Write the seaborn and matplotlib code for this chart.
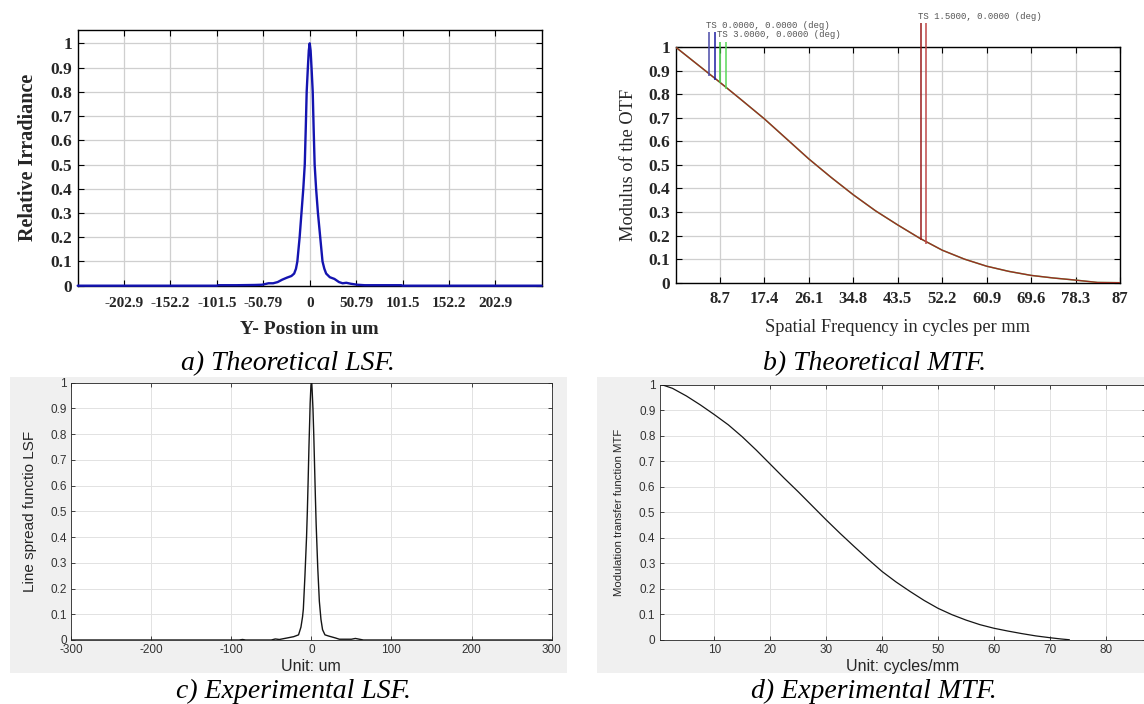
import numpy as np
import pandas as pd
import seaborn as sns
import matplotlib
matplotlib.use("Agg")
import matplotlib.pyplot as plt
from matplotlib.patches import Rectangle

# a) theoretical LSF (um, relative irradiance)
lsf_theo_x = [-253.6, -101.5, -100, -80, -60, -52, -45, -40, -35, -30, -25, -20, -17, -15,
              -13.5, -11, -9, -7, -5.4, -4.3, -3.3, -2, -1, 0, 1, 2, 3.3, 4.3, 5.4, 7, 9,
              11.5, 14, 16, 18, 22, 27, 32, 36, 40, 45, 52, 60, 100, 101.5, 253.6]
lsf_theo_y = [0, 0, 0.002, 0.002, 0.003, 0.004, 0.01, 0.01, 0.015, 0.025, 0.033, 0.04, 0.05, 0.07,
              0.10, 0.20, 0.30, 0.40, 0.50, 0.65, 0.80, 0.90, 0.97, 1.0, 0.97, 0.90, 0.80, 0.65, 0.50, 0.40, 0.30,
              0.20, 0.10, 0.07, 0.05, 0.035, 0.028, 0.015, 0.01, 0.012, 0.008, 0.004, 0.002, 0.002, 0, 0]
lsf_theo_ticks = [-202.9, -152.2, -101.5, -50.79, 0, 50.79, 101.5, 152.2, 202.9]
lsf_theo_ticklabels = ["-202.9", "-152.2", "-101.5", "-50.79", "0", "50.79", "101.5", "152.2", "202.9"]

# b) theoretical MTF (cycles/mm, modulus of OTF)
mtf_theo_x = [0, 4.35, 8.7, 13.05, 17.4, 21.75, 26.1, 30.45, 34.8, 39.15, 43.5, 47.85, 52.2,
              56.55, 60.9, 65.25, 69.6, 73.95, 78.3, 82.6, 87]
mtf_theo_y = [1.0, 0.925, 0.85, 0.773, 0.695, 0.61, 0.525, 0.447, 0.373, 0.305, 0.245, 0.188, 0.138,
              0.100, 0.070, 0.048, 0.031, 0.02, 0.011, 0.001, 0.0]
mtf_theo_ticks = [8.7, 17.4, 26.1, 34.8, 43.5, 52.2, 60.9, 69.6, 78.3, 87]
mtf_theo_ticklabels = ["8.7", "17.4", "26.1", "34.8", "43.5", "52.2", "60.9", "69.6", "78.3", "87"]
field_names = ["TS 0.0000, 0.0000 (deg)", "TS 3.0000, 0.0000 (deg)", "TS 1.5000, 0.0000 (deg)"]
marker_freq = [6.57, 7.65, 8.70, 9.94, 47.96, 49.03]
marker_bottom = [0.877, 0.862, 0.848, 0.82, 0.18, 0.165]
marker_top = [1.065, 1.065, 1.022, 1.022, 1.103, 1.103]
marker_colors = ["#4a4aa8", "#1c1ca0", "#3cc83c", "#5ad85a", "#9a1c1c", "#c04848"]

# c) experimental LSF
lsf_exp_x = [-300, -90, -86, -82, -50, -45, -40, -30, -22, -16, -13, -11, -10, -8, -6, -5, -4, -3,
             -2, -1.5, -0.5, 0, 0.5, 1, 2, 3, 4, 5, 6, 8, 10, 12, 14, 17, 22, 30, 35, 45, 50, 55,
             60, 65, 300]
lsf_exp_y = [0, 0, 0.002, 0, 0, 0.004, 0.002, 0.008, 0.013, 0.02, 0.05, 0.09, 0.12, 0.25, 0.40, 0.50,
             0.62, 0.75, 0.86, 0.92, 0.99, 1.0, 1.0, 0.97, 0.90, 0.80, 0.68, 0.56, 0.45, 0.28, 0.15,
             0.08, 0.04, 0.02, 0.015, 0.008, 0.003, 0.003, 0.003, 0.006, 0.003, 0, 0]

# d) experimental MTF
mtf_exp_x = [0.5, 2.5, 5, 7.5, 10, 12.5, 15, 17.5, 20, 22.5, 25, 27.5, 30, 32.5, 35, 37.5, 40,
             42.5, 45, 47.5, 50, 52.5, 55, 57.5, 60, 62.5, 65, 67.5, 70, 72, 73.5]
mtf_exp_y = [1.0, 0.985, 0.955, 0.92, 0.882, 0.842, 0.795, 0.743, 0.688, 0.633, 0.58, 0.525, 0.47,
             0.417, 0.366, 0.316, 0.268, 0.227, 0.19, 0.155, 0.124, 0.099, 0.078, 0.06, 0.046,
             0.035, 0.025, 0.016, 0.009, 0.004, 0.001]

unit_ticks = [0, 0.1, 0.2, 0.3, 0.4, 0.5, 0.6, 0.7, 0.8, 0.9, 1]
unit_ticklabels = ["0", "0.1", "0.2", "0.3", "0.4", "0.5", "0.6", "0.7", "0.8", "0.9", "1"]

sns.set_theme(style="white")
plt.rcParams["font.family"] = ["Liberation Serif", "DejaVu Sans"]

W, H = 1144, 704
fig = plt.figure(figsize=(11.44, 7.04), dpi=100)
fig.patch.set_facecolor("white")


def box(x0, y0, x1, y1):
    return [x0 / W, 1 - y1 / H, (x1 - x0) / W, (y1 - y0) / H]


# grey MATLAB figure backgrounds (behind the axes)
for x0, x1 in [(9.8, 566.7), (596.7, 1146)]:
    b = box(x0, 376.7, x1, 673)
    fig.patches.append(Rectangle((b[0], b[1]), b[2], b[3], transform=fig.transFigure,
                                 facecolor="#f0f0f0", edgecolor="none", zorder=-5))

serif = "Liberation Serif"
sans = "Liberation Sans"


def zemax_style(ax):
    ax.set_facecolor("white")
    ax.grid(True, color="#cfcfcf", linewidth=0.9)
    ax.set_axisbelow(True)
    for s in ax.spines.values():
        s.set_visible(True)
        s.set_color("black")
        s.set_linewidth(1.0)
    ax.tick_params(direction="in", top=True, right=True, bottom=True, left=True,
                   length=4, width=0.8, color="black")


def matlab_style(ax):
    ax.set_facecolor("white")
    ax.grid(True, color="#e2e2e2", linewidth=0.7)
    ax.set_axisbelow(True)
    for s in ax.spines.values():
        s.set_visible(True)
        s.set_color("#262626")
        s.set_linewidth(0.6)
    ax.tick_params(direction="in", top=True, right=True, bottom=True, left=True,
                   length=3, width=0.6, color="#262626", labelcolor="#333333", pad=3)


# ---- a) Theoretical LSF
ax = fig.add_axes(box(77.7, 30, 541.7, 285.7))
df_a = pd.DataFrame({"pos": lsf_theo_x, "irr": lsf_theo_y})
sns.lineplot(data=df_a, x="pos", y="irr", ax=ax, estimator=None, sort=False,
             color="#1414b0", linewidth=1.7, zorder=3, clip_on=False)
zemax_style(ax)
ax.set_xlim(-253.6, 253.6)
ax.set_ylim(0, 1.055)
ax.set_xticks(lsf_theo_ticks)
ax.set_xticklabels(lsf_theo_ticklabels, fontfamily=serif, fontweight="bold", fontsize=11)
ax.set_yticks(unit_ticks)
ax.set_yticklabels(unit_ticklabels, fontfamily=serif, fontweight="bold", fontsize=12.5)
ax.tick_params(axis="x", pad=8)
ax.tick_params(axis="y", pad=4)
ax.set_xlabel("Y- Postion in um", fontfamily=serif, fontweight="bold", fontsize=14)
ax.set_ylabel("Relative Irradiance", fontfamily=serif, fontweight="bold", fontsize=14.5)
ax.xaxis.set_label_coords(0.5, -0.138)
ax.yaxis.set_label_coords(-0.085, 0.5)

# ---- b) Theoretical MTF
ax = fig.add_axes(box(675.5, 47, 1120, 282.7))
df_b = pd.DataFrame({"freq": mtf_theo_x, "mtf": mtf_theo_y})
sns.lineplot(data=df_b, x="freq", y="mtf", ax=ax, estimator=None, sort=False,
             color="#5fc85f", linewidth=1.1, zorder=3)
sns.lineplot(data=df_b, x="freq", y="mtf", ax=ax, estimator=None, sort=False,
             color="#a01c1c", linewidth=1.0, alpha=0.9, zorder=4)
for f, lo, hi, c in zip(marker_freq, marker_bottom, marker_top, marker_colors):
    ax.vlines(f, lo, hi, colors=c, linewidth=1.1, clip_on=False, zorder=4)
ax.text(5.91, 1.090, field_names[0], fontfamily="Liberation Mono", fontsize=6.5,
        color="#555555", va="center", ha="left", clip_on=False)
ax.text(8.06, 1.051, field_names[1], fontfamily="Liberation Mono", fontsize=6.5,
        color="#555555", va="center", ha="left", clip_on=False)
ax.text(47.4, 1.128, field_names[2], fontfamily="Liberation Mono", fontsize=6.5,
        color="#555555", va="center", ha="left", clip_on=False)
zemax_style(ax)
ax.set_xlim(0, 87)
ax.set_ylim(0, 1)
ax.set_xticks(mtf_theo_ticks)
ax.set_xticklabels(mtf_theo_ticklabels, fontfamily=serif, fontweight="bold", fontsize=12)
ax.set_yticks(unit_ticks)
ax.set_yticklabels(unit_ticklabels, fontfamily=serif, fontweight="bold", fontsize=12.5)
ax.tick_params(axis="x", pad=6)
ax.tick_params(axis="y", pad=4)
ax.set_xlabel("Spatial Frequency in cycles per mm", fontfamily=serif, fontsize=13.2)
ax.set_ylabel("Modulus of the OTF", fontfamily=serif, fontsize=13.2)
ax.xaxis.set_label_coords(0.5, -0.155)
ax.yaxis.set_label_coords(-0.087, 0.5)

# ---- c) Experimental LSF
ax = fig.add_axes(box(71.1, 382.7, 551.6, 640))
ax.set_zorder(2)
df_c = pd.DataFrame({"pos": lsf_exp_x, "lsf": lsf_exp_y})
sns.lineplot(data=df_c, x="pos", y="lsf", ax=ax, estimator=None, sort=False,
             color="#151515", linewidth=1.0, zorder=3)
matlab_style(ax)
ax.set_xlim(-300, 300)
ax.set_ylim(0, 1)
ax.set_xticks([-300, -200, -100, 0, 100, 200, 300])
ax.set_xticklabels(["-300", "-200", "-100", "0", "100", "200", "300"], fontfamily=sans, fontsize=8.5)
ax.set_yticks(unit_ticks)
ax.set_yticklabels(unit_ticklabels, fontfamily=sans, fontsize=8.5)
ax.set_xlabel("Unit: um", fontfamily=sans, fontsize=11.5, color="#262626")
ax.set_ylabel("Line spread functio LSF", fontfamily=sans, fontsize=11, color="#262626")
ax.xaxis.set_label_coords(0.5, -0.075)
ax.yaxis.set_label_coords(-0.072, 0.5)

# ---- d) Experimental MTF
ax = fig.add_axes(box(659.6, 384.5, 1146, 640))
ax.set_zorder(2)
df_d = pd.DataFrame({"freq": mtf_exp_x, "mtf": mtf_exp_y})
sns.lineplot(data=df_d, x="freq", y="mtf", ax=ax, estimator=None, sort=False,
             color="#151515", linewidth=0.9, zorder=3)
matlab_style(ax)
ax.set_xlim(0.2, 87.2)
ax.set_ylim(0, 1)
ax.set_xticks([10, 20, 30, 40, 50, 60, 70, 80])
ax.set_xticklabels(["10", "20", "30", "40", "50", "60", "70", "80"], fontfamily=sans, fontsize=8.5)
ax.set_yticks(unit_ticks)
ax.set_yticklabels(unit_ticklabels, fontfamily=sans, fontsize=8.5)
ax.set_xlabel("Unit: cycles/mm", fontfamily=sans, fontsize=11.5, color="#262626")
ax.set_ylabel("Modulation transfer function MTF", fontfamily=sans, fontsize=8.2, color="#262626")
ax.xaxis.set_label_coords(0.5, -0.075)
ax.yaxis.set_label_coords(-0.073, 0.5)

# captions
cap = dict(fontfamily=serif, fontstyle="italic", fontsize=20, ha="center", va="baseline", color="black")
fig.text(288 / W, 1 - 370 / H, "a) Theoretical LSF.", **cap)
fig.text(875 / W, 1 - 370 / H, "b) Theoretical MTF.", **cap)
fig.text(294 / W, 1 - 698 / H, "c) Experimental LSF.", **cap)
fig.text(874 / W, 1 - 698 / H, "d) Experimental MTF.", **cap)

fig.savefig("out.png", dpi=100, facecolor="white")
